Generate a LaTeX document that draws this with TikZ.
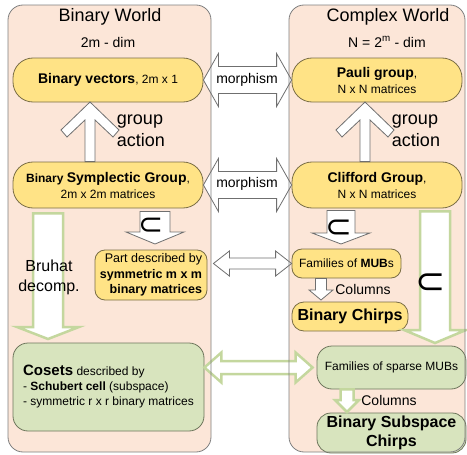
\documentclass[tikz,border=0pt]{standalone}
\usepackage{fontspec}
\setmainfont{Liberation Sans}
\newfontfamily\symfont{DejaVu Sans}
\usetikzlibrary{calc}

\definecolor{panelfill}{HTML}{FCE6D8}
\definecolor{panelline}{HTML}{7F7F7F}
\definecolor{ybox}{HTML}{FFE386}
\definecolor{yline}{HTML}{7A6E45}
\definecolor{gbox}{HTML}{D8E4BE}
\definecolor{gline}{HTML}{6E765C}
\definecolor{garrow}{HTML}{C4D79E}
\definecolor{warrow}{HTML}{6F6F6F}

\newcommand{\fsz}[2]{\fontsize{#1}{#2}\selectfont}
% block arrow pointing down: style, start, tip, half shaft, half head, head length
\newcommand{\downblock}[6]{%
  \draw[#1] let \p1=(#2), \p2=(#3) in
    (\x2-#4,\y1) -- (\x2-#4,\y2+#6) -- (\x2-#5,\y2+#6) -- (\x2,\y2)
    -- (\x2+#5,\y2+#6) -- (\x2+#4,\y2+#6) -- (\x2+#4,\y1) -- cycle;}
% barbed arrow pointing up: style, start, tip
\newcommand{\upchev}[3]{%
  \draw[#1] let \p1=(#2), \p2=(#3) in
    (\x2,\y2) -- (\x2-29pt,\y2-28pt) -- (\x2-23pt,\y2-35pt) -- (\x2-5pt,\y2-18pt)
    -- (\x2-5pt,\y1) -- (\x2+5pt,\y1) -- (\x2+5pt,\y2-18pt)
    -- (\x2+23pt,\y2-35pt) -- (\x2+29pt,\y2-28pt) -- cycle;}
% double block arrow: style, left tip, right tip, half shaft, half head, head length
\newcommand{\hdblock}[6]{%
  \draw[#1] let \p1=(#2), \p2=(#3) in
    (\x1,\y1) -- (\x1+#6,\y1+#5) -- (\x1+#6,\y1+#4) -- (\x2-#6,\y1+#4)
    -- (\x2-#6,\y1+#5) -- (\x2,\y1) -- (\x2-#6,\y1-#5) -- (\x2-#6,\y1-#4)
    -- (\x1+#6,\y1-#4) -- (\x1+#6,\y1-#5) -- cycle;}

\begin{document}
\begin{tikzpicture}[x=1pt, y=-1pt,
  panel/.style={rounded corners=15pt},
  ynode/.style={draw=yline, fill=ybox, rounded corners=#1, align=center, inner sep=1pt, line width=0.8pt},
  ynode/.default=20pt,
  gnode/.style={draw=gline, fill=gbox, rounded corners=#1, align=center, inner sep=1pt, line width=0.8pt},
  gnode/.default=15pt,
  warr/.style={draw=warrow, fill=white, line width=0.8pt},
  garr/.style={draw=garrow, fill=white, line width=2.5pt},
  lbl/.style={inner sep=0pt, align=center},
  incl/.style={inner sep=0pt, font=\symfont\fsz{#1}{#1}}]
\useasboundingbox (0,0) rectangle (467,455);

% the two worlds
\fill[panel, panelfill] (8,5) rectangle (211,452);
\fill[panel, panelfill] (289,5) rectangle (465,452);

\node[lbl, font=\fsz{18}{22}] (bwt) at (110,17) {Binary World};
\node[lbl, font=\fsz{14}{17}] (bwd) at (108,42) {2m - dim};
\node[lbl, font=\fsz{18}{22}] (cwt) at (388,17) {Complex World};
\node[lbl, font=\fsz{14}{17}] (cwd) at (387,42) {N = 2\textsuperscript{m} - dim};

% binary side
\node[ynode, minimum width=190, minimum height=44, font=\fsz{12}{15}] (bvec) at (108,80)
  {{\fsz{14}{17}\bfseries Binary vectors}, 2m x 1};
\node[ynode, minimum width=190, minimum height=46, font=\fsz{12}{16}] (bsym) at (108,185)
  {{\bfseries Binary} {\fsz{14}{17}\bfseries Symplectic Group},\\2m x 2m matrices};
\node[ynode=10pt, minimum width=112, minimum height=50, font=\fsz{12.5}{15.5}, align=right] (part) at (151,275)
  {Part described by\\\textbf{symmetric m x m}\\\textbf{binary matrices}};
\node[gnode, minimum width=191, minimum height=88, font=\fsz{12}{15}, align=left] (cosets) at (108.5,387)
  {{\fsz{15}{15}\bfseries Cosets} described by\\- \textbf{Schubert cell} (subspace)\\- symmetric r x r binary matrices};

% complex side
\node[ynode, minimum width=170, minimum height=44, font=\fsz{12}{16}] (pauli) at (377,80)
  {{\fsz{14}{17}\bfseries Pauli group},\\N x N matrices};
\node[ynode, minimum width=170, minimum height=46, font=\fsz{12}{16}] (cliff) at (377,185)
  {{\fsz{14}{17}\bfseries Clifford Group},\\N x N matrices};
\node[ynode=10pt, minimum width=109, minimum height=29, font=\fsz{12}{15}] (mubs) at (346.5,263.5)
  {Families of \textbf{MUB}s};
\node[ynode=12pt, minimum width=116, minimum height=29, font=\fsz{16}{19}\bfseries] (chirps) at (350,316.5)
  {Binary Chirps};
\node[gnode, minimum width=149, minimum height=43, font=\fsz{12}{15}] (smubs) at (391.5,367.5)
  {Families of sparse MUBs};
\node[gnode=14pt, minimum width=149, minimum height=40, font=\fsz{16}{19}\bfseries] (schirps) at (391.5,433)
  {Binary Subspace\\Chirps};

% arrow tips
\coordinate (gaL) at (90,102);
\coordinate (gaR) at (365,102);
\coordinate (subL) at (155,244);
\coordinate (subR) at (341,244);
\coordinate (colA) at (321,300);
\coordinate (colB) at (347,412);
\coordinate (bru) at (48,339);
\coordinate (subG) at (435,343);

\upchev{warr}{bsym.north -| gaL}{gaL}
\upchev{warr}{cliff.north -| gaR}{gaR}
\hdblock{warr}{bvec.east}{pauli.west}{13.5pt}{26.5pt}{15pt}
\hdblock{warr}{bsym.east}{cliff.west}{13.5pt}{26.5pt}{15pt}
\hdblock{warr}{$(part.east |- mubs.west)+(6,0)$}{mubs.west}{5.5pt}{12.5pt}{16pt}
\downblock{warr}{$(bsym.south -| subL)+(0,3)$}{subL}{15pt}{29pt}{12pt}
\downblock{warr}{$(cliff.south -| subR)+(0,2)$}{subR}{14pt}{29pt}{11pt}
\downblock{warr}{mubs.south -| colA}{colA}{5.5pt}{12pt}{10pt}
\downblock{garr}{$(bsym.south -| bru)+(0,5)$}{bru}{15pt}{31pt}{12pt}
\downblock{garr}{$(cliff.south -| subG)+(0,3)$}{subG}{15pt}{31pt}{13pt}
\downblock{garr}{smubs.south -| colB}{colB}{6.5pt}{12pt}{12pt}
\hdblock{garr}{cosets.east |- smubs.west}{$(smubs.west)+(-4,0)$}{6.5pt}{15pt}{17pt}

\draw[panel, panelline, line width=0.8pt] (8,5) rectangle (211,452);
\draw[panel, panelline, line width=0.8pt] (289,5) rectangle (465,452);

% labels on the arrows
\node[lbl, font=\fsz{18}{22}, align=left] (gaLt) at (141,131) {group\\action};
\node[lbl, font=\fsz{18}{22}, align=left] (gaRt) at (416,131) {group\\action};
\node[lbl, font=\fsz{14}{17}] (mor1) at (247,80) {morphism};
\node[lbl, font=\fsz{14}{17}] (mor2) at (247,184) {morphism};
\node[lbl, font=\fsz{16}{20}] (bruT) at (49,277) {Bruhat\\decomp.};
\node[lbl, font=\fsz{14}{17}] (colT1) at (363,289) {Columns};
\node[lbl, font=\fsz{14}{17}] (colT2) at (389,400) {Columns};
\node[incl=30] (inc1) at (151,226) {⊂};
\node[incl=32] (inc2) at (339,229) {⊂};
\node[incl=36] (inc3) at (431,284) {⊂};
\end{tikzpicture}
\end{document}
